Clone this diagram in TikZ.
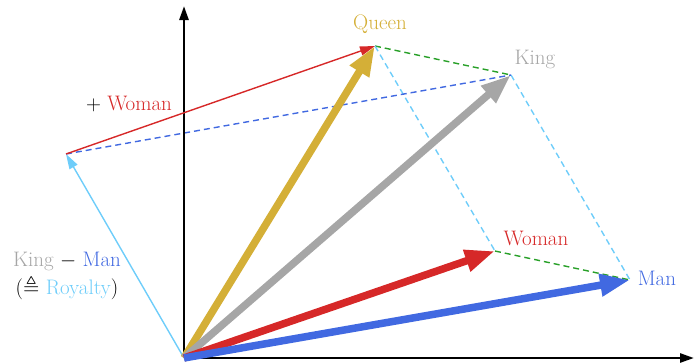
\documentclass[tikz,border=0pt]{standalone}
\usepackage{amssymb}
\usetikzlibrary{arrows.meta}
\definecolor{cman}{RGB}{65,105,225}
\definecolor{cwoman}{RGB}{214,40,40}
\definecolor{cqueen}{RGB}{212,175,55}
\definecolor{cking}{RGB}{166,166,166}
\definecolor{croyal}{RGB}{110,205,250}
\definecolor{cgreen}{RGB}{40,160,40}
\begin{document}
\begin{tikzpicture}[x=1pt,y=-1pt,
  every node/.style={font=\fontsize{21}{25}\selectfont, inner sep=0pt},
  axis/.style={line width=2.6pt,-{Triangle[length=14pt,width=9pt]}},
  vec/.style={line width=7.5pt,-{Triangle[length=30pt,width=21pt]}},
  thinvec/.style={line width=1.4pt,-{Triangle[length=15pt,width=9pt]}},
  dline/.style={line width=1.4pt,dash pattern=on 6pt off 4pt}]
\useasboundingbox (0,0) rectangle (694,364);
\coordinate (O) at (184,358);
\coordinate (XE) at (694,358);
\coordinate (YE) at (184,6);
\coordinate (Man) at (630,280);
\coordinate (Woman) at (495,251);
\coordinate (King) at (511,75);
\coordinate (Queen) at (375,46);
\coordinate (R) at (66,154);
% dashed parallelogram
\draw[dline,cgreen] (Queen) -- (King);
\draw[dline,cgreen] (Woman) -- (Man);
\draw[dline,croyal] (Queen) -- (Woman);
\draw[dline,croyal] (King) -- (Man);
\draw[dline,cman] (R) -- (King);
% axes
\draw[axis] (O) -- (XE);
\draw[axis] (O) -- (YE);
% royalty
\draw[thinvec,croyal] (O) -- (R);
\draw[thinvec,cwoman] (R) -- (Queen);
% main vectors
\draw[vec,cqueen] (O) -- (Queen);
\draw[vec,cking] (O) -- (King);
\draw[vec,cwoman] (O) -- (Woman);
\draw[vec,cman] (O) -- (Man);
% labels
\node[text=cqueen] (lq) at (380,24) {Queen};
\node[text=cking] (lk) at (535,59) {King};
\node[text=cwoman] (lw) at (536,238) {Woman};
\node[text=cman] (lm) at (657,278) {Man};
\node (lpw) at (129,104) {$+$ \textcolor{cwoman}{Woman}};
\node (lkm) at (67,261) {\textcolor{cking}{King} $-$ \textcolor{cman}{Man}};
\node (lr) at (67,287) {($\triangleq$ \textcolor{croyal}{Royalty})};
\end{tikzpicture}
\end{document}
